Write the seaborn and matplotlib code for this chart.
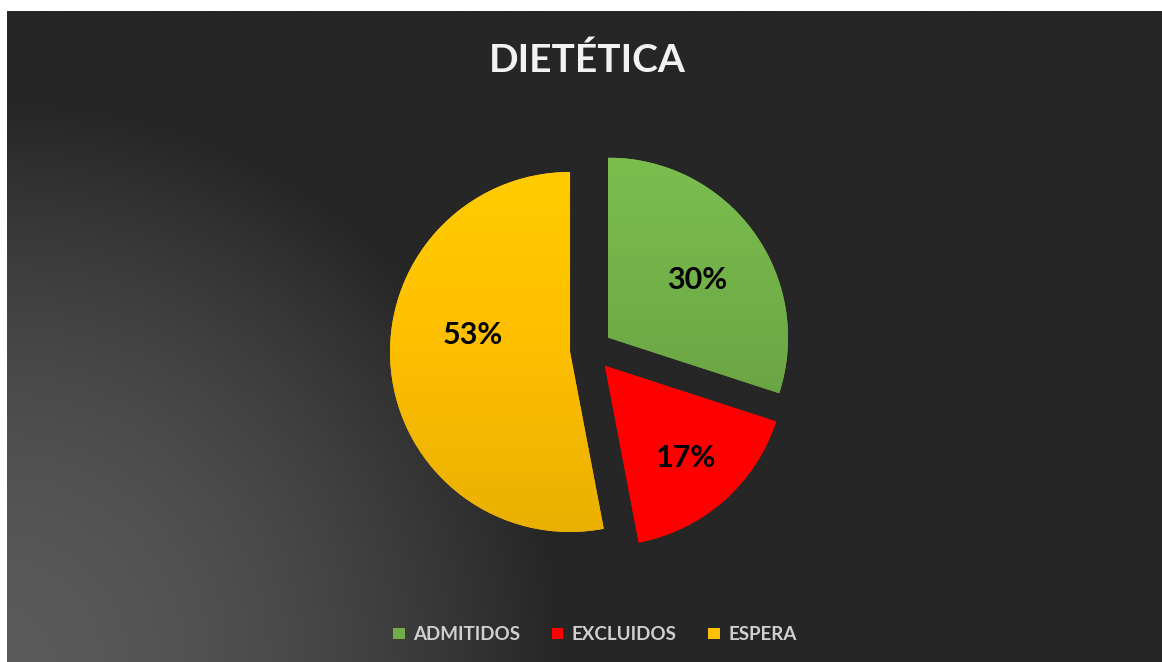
import numpy as np
import matplotlib
matplotlib.use("Agg")
import matplotlib.pyplot as plt
import seaborn as sns

# ── Data ──────────────────────────────────────────────────────────────────────
categories = ["ADMITIDOS", "EXCLUIDOS", "ESPERA"]
shares     = [30, 17, 53]
colors     = ["#70ad47", "#ff0000", "#ffc000"]
title      = "DIETÉTICA"

sns.set_style("dark")
plt.rcParams["font.family"] = ["Lato", "DejaVu Sans"]

W, H = 1162, 662
fig = plt.figure(figsize=(W / 100, H / 100), dpi=100, facecolor="white")
ax = fig.add_axes([0, 0, 1, 1])

# ── Background: dark panel with a light glow at bottom-left ─────────────────
left, top = 7, H - 11
gx = np.linspace(left, W, 400)
gy = np.linspace(0, top, 240)
xx, yy = np.meshgrid(gx, gy)
r = np.hypot(xx, yy)
glow = np.clip(1 - (r / 560) ** 1.7, 0, 1)
val = (38 + 52 * glow) / 255
bg = np.dstack([val, val, val])
ax.imshow(bg, extent=(left, W, 0, top), origin="lower", zorder=0,
          interpolation="bilinear")

# ── Pie ──────────────────────────────────────────────────────────────────────
center = (591, H - 350)
radius = 180
wedges, _, autotexts = ax.pie(
    shares, colors=colors, startangle=90, counterclock=False,
    explode=[0.117 * radius] * 3, center=center, radius=radius,
    autopct=lambda p: f"{p:.0f}%", pctdistance=0.6,
    wedgeprops=dict(linewidth=0), frame=True,
    textprops=dict(color="black", fontsize=22, fontweight="bold"))
ax.set_xlim(0, W)
ax.set_ylim(0, H)
ax.set_aspect("equal")
ax.axis("off")

# vertical shading on the green and yellow slices (red stays flat)
shade_range = [(0.88, 1.1), (1.0, 1.0), (0.92, 1.06)]
for w, c, (lo, hi) in zip(wedges, colors, shade_range):
    rgb = np.array(matplotlib.colors.to_rgb(c))
    shade = np.linspace(lo, hi, 100)[:, None, None] * rgb[None, None, :]
    shade = np.clip(shade, 0, 1)
    cx, cy = w.center
    im = ax.imshow(shade, extent=(cx - radius, cx + radius, cy - radius, cy + radius),
                   origin="lower", zorder=1.5, aspect="auto")
    im.set_clip_path(w)

# label placement like the source: (distance in radii, angle shift in degrees)
label_place = [(0.59, -3), (0.68, 0), (0.55, -15)]
for w, t, (d, shift) in zip(wedges, autotexts, label_place):
    ang = np.deg2rad((w.theta1 + w.theta2) / 2 + shift)
    cx, cy = w.center
    t.set_position((cx + d * radius * np.cos(ang), cy + d * radius * np.sin(ang)))
    t.set_zorder(3)

ax.text(587, H - 60, title, ha="center", va="center", color="#f2f2f2",
        fontsize=28, fontweight="bold")

leg = ax.legend(wedges, categories, loc="lower center",
                bbox_to_anchor=(595 / W, 2 / H), ncol=3, frameon=False,
                handlelength=0.6, handleheight=0.6, handletextpad=0.45,
                columnspacing=1.7, prop=dict(size=13.5, weight="bold"))
for txt in leg.get_texts():
    txt.set_color("#d0d0d0")

fig.savefig("out.png", dpi=100, facecolor=fig.get_facecolor())
